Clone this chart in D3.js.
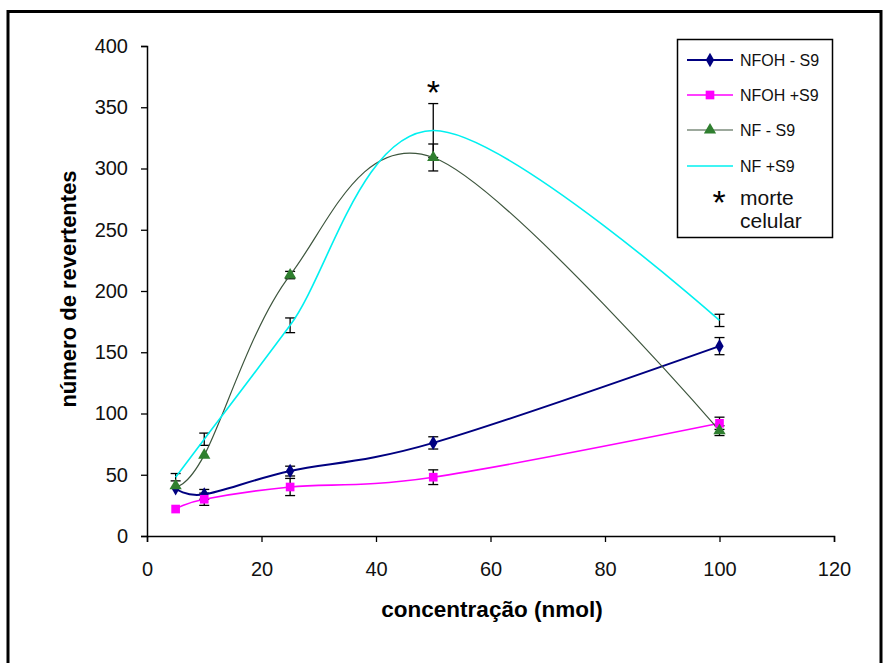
<!DOCTYPE html>
<html>
  <head>
    <meta charset="utf-8" />
    <title>número de revertentes</title>
    <script src="https://d3js.org/d3.v7.min.js"></script>
    <style>
      body { margin: 0; background: #fff; }
      text { font-family: "Liberation Sans", Arial, sans-serif; }
    </style>
  </head>
  <body>
    <script>
      // data
      let concentrations = [5, 10, 25, 50, 100];
      let seriesNames = ["NFOH - S9", "NFOH +S9", "NF - S9", "NF +S9"];
      let nfohMinusS9 = [39, 34, 53, 76, 155];
      let nfohMinusS9Err = [0, 4, 4, 5, 7];
      let nfohPlusS9 = [22, 30, 40, 48, 92];
      let nfohPlusS9Err = [0, 5, 7, 6, 5];
      let nfMinusS9 = [41, 66, 213, 309, 86];
      let nfMinusS9Err = [0, 0, 3, 11, 4];
      let nfPlusS9 = [48, 79, 172, 331, 176];
      let nfPlusS9Err = [3, 5, 6, 22, 5];
      let xTicks = [0, 20, 40, 60, 80, 100, 120];
      let yTicks = [0, 50, 100, 150, 200, 250, 300, 350, 400];
      let deathMark = { x: 50, y: 367 };

      let width = 886;
      let height = 663;
      let svg = d3
        .select("body")
        .append("svg")
        .attr("width", width)
        .attr("height", height);

      // outer frame
      svg
        .append("rect")
        .attr("x", 8)
        .attr("y", 11.5)
        .attr("width", 873)
        .attr("height", 700)
        .attr("fill", "none")
        .attr("stroke", "black")
        .attr("stroke-width", 3);

      let x = d3.scaleLinear().domain([0, 120]).range([147, 834]);
      let y = d3.scaleLinear().domain([0, 400]).range([536, 46]);

      // axes
      let xAxis = svg
        .append("g")
        .attr("transform", "translate(0," + y(0) + ")")
        .call(d3.axisBottom(x).tickValues(xTicks).tickSize(6).tickPadding(20));
      let yAxis = svg
        .append("g")
        .attr("transform", "translate(" + x(0) + ",0)")
        .call(d3.axisLeft(y).tickValues(yTicks).tickSize(6).tickPadding(13));
      [xAxis, yAxis].forEach((g) => {
        g.select(".domain").attr("stroke", "black").attr("stroke-width", 1.5);
        g.selectAll(".tick line").attr("stroke", "black").attr("stroke-width", 1.3);
        g.selectAll(".tick text")
          .attr("fill", "#111")
          .style("font-family", '"Liberation Sans", Arial, sans-serif')
          .style("font-size", "20px");
      });

      // axis titles
      svg
        .append("text")
        .attr("x", 492)
        .attr("y", 617)
        .attr("text-anchor", "middle")
        .style("font-size", "22.5px")
        .style("font-weight", "bold")
        .text("concentração (nmol)");
      svg
        .append("text")
        .attr("transform", "translate(76,289) rotate(-90)")
        .attr("text-anchor", "middle")
        .style("font-size", "22px")
        .style("font-weight", "bold")
        .text("número de revertentes");

      let series = [
        { name: seriesNames[0], values: nfohMinusS9, err: nfohMinusS9Err, color: "#000080", width: 2, marker: "diamond", markerColor: "#000080" },
        { name: seriesNames[1], values: nfohPlusS9, err: nfohPlusS9Err, color: "#ff00ff", width: 1.6, marker: "square", markerColor: "#ff00ff" },
        { name: seriesNames[2], values: nfMinusS9, err: nfMinusS9Err, color: "#3d553d", width: 1.2, marker: "triangle", markerColor: "#2f7f2f" },
        { name: seriesNames[3], values: nfPlusS9, err: nfPlusS9Err, color: "#00f0f0", width: 1.6, marker: null, markerColor: null },
      ];

      let symbols = {
        diamond: d3.symbol().type(d3.symbolDiamond).size(60),
        square: d3.symbol().type(d3.symbolSquare).size(75),
        triangle: d3.symbol().type(d3.symbolTriangle).size(65),
      };

      // Excel style smoothed line
      let line = d3
        .line()
        .x((d) => x(d.x))
        .y((d) => y(d.y))
        .curve(d3.curveCardinal.tension(0));

      series.forEach((s) => {
        s.points = concentrations.map((c, i) => ({ x: c, y: s.values[i], e: s.err[i] }));
      });

      // error bars (drawn under the lines like the original)
      let bars = svg
        .selectAll(".errbar")
        .data(series.flatMap((s) => s.points.filter((p) => p.e > 0)))
        .join("g")
        .attr("class", "errbar")
        .attr("stroke", "black")
        .attr("stroke-width", 1.3);
      bars
        .append("line")
        .attr("x1", (d) => x(d.x))
        .attr("x2", (d) => x(d.x))
        .attr("y1", (d) => y(d.y - d.e))
        .attr("y2", (d) => y(d.y + d.e));
      bars
        .selectAll(".cap")
        .data((d) => [d.y - d.e, d.y + d.e].map((v) => ({ x: d.x, v: v })))
        .join("line")
        .attr("class", "cap")
        .attr("x1", (d) => x(d.x) - 5)
        .attr("x2", (d) => x(d.x) + 5)
        .attr("y1", (d) => y(d.v))
        .attr("y2", (d) => y(d.v));

      // draw lines
      svg
        .selectAll(".series")
        .data(series)
        .join("path")
        .attr("class", "series")
        .attr("d", (d) => line(d.points))
        .attr("fill", "none")
        .attr("stroke", (d) => d.color)
        .attr("stroke-width", (d) => d.width);

      // markers
      series
        .filter((s) => s.marker)
        .forEach((s) => {
          svg
            .selectAll(".mk-" + s.marker)
            .data(s.points)
            .join("path")
            .attr("class", "mk-" + s.marker)
            .attr("transform", (d) => "translate(" + x(d.x) + "," + y(d.y) + ")")
            .attr("d", symbols[s.marker])
            .attr("fill", s.markerColor);
        });

      // asterisk over the 50 nmol point
      svg
        .append("text")
        .attr("x", x(deathMark.x))
        .attr("y", y(deathMark.y) + 18)
        .attr("text-anchor", "middle")
        .style("font-size", "34px")
        .text("*");

      // legend
      let legend = svg.append("g");
      legend
        .append("rect")
        .attr("x", 677.5)
        .attr("y", 39.5)
        .attr("width", 155)
        .attr("height", 198)
        .attr("fill", "white")
        .attr("stroke", "black")
        .attr("stroke-width", 1.5);
      let rowY = [60, 95, 130, 166];
      let items = legend
        .selectAll(".item")
        .data(series)
        .join("g")
        .attr("class", "item")
        .attr("transform", (d, i) => "translate(0," + rowY[i] + ")");
      items
        .append("line")
        .attr("x1", 687)
        .attr("x2", 733)
        .attr("stroke", (d) => d.color)
        .attr("stroke-width", (d) => d.width);
      items
        .filter((d) => d.marker)
        .append("path")
        .attr("transform", "translate(710,0)")
        .attr("d", (d) => symbols[d.marker]())
        .attr("fill", (d) => d.markerColor);
      items
        .append("text")
        .attr("x", 740)
        .attr("y", 5.5)
        .style("font-size", "16px")
        .attr("fill", "#111")
        .text((d) => d.name);
      legend
        .append("text")
        .attr("x", 719)
        .attr("y", 214)
        .attr("text-anchor", "middle")
        .style("font-size", "34px")
        .text("*");
      legend
        .append("text")
        .attr("x", 740)
        .attr("y", 205)
        .style("font-size", "21px")
        .attr("fill", "#111")
        .text("morte");
      legend
        .append("text")
        .attr("x", 740)
        .attr("y", 228)
        .style("font-size", "21px")
        .attr("fill", "#111")
        .text("celular");
    </script>
  </body>
</html>
